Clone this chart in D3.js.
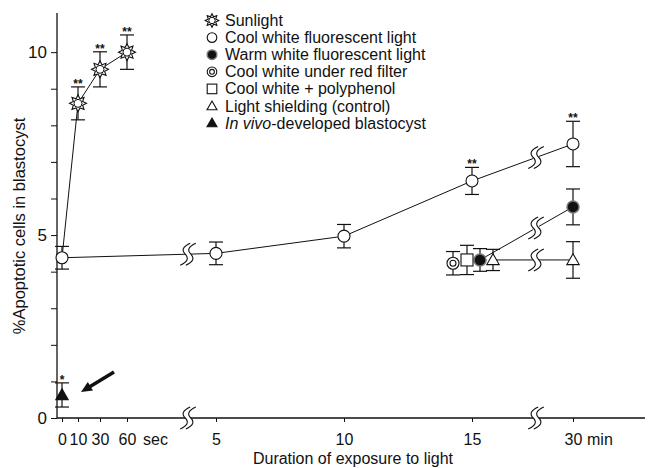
<!DOCTYPE html>
<html>
<head>
<meta charset="utf-8">
<script src="https://cdn.jsdelivr.net/npm/d3@7"></script>
<style>
body { margin: 0; background: #fff; }
svg { font-family: "Liberation Sans", Arial, sans-serif; }
</style>
</head>
<body>
<div id="chart"></div>
<script>
// x ticks, seconds part and minutes part of the broken axis
const secTicks = [0, 10, 30, 60]
const minTicks = [5, 10, 15, 30]
const yLabels = [0, 5, 10]

// sunlight starts from the same 0 sec point as cool white
const sunTimes = ["0s", "10s", "30s", "60s"]
const sunMean = [4.38, 8.6, 9.53, 10.0]
const sunErr = [0.31, 0.45, 0.48, 0.47]
const sunSig = ["", "**", "**", "**"]

const coolTimes = ["0s", "5m", "10m", "15m", "30m"]
const coolMean = [4.38, 4.5, 4.97, 6.48, 7.49]
const coolErr = [0.31, 0.31, 0.32, 0.37, 0.62]
const coolSig = ["", "", "", "**", "**"]

const warmTimes = ["15m", "30m"]
const warmMean = [4.32, 5.77]
const warmErr = [0.31, 0.49]

const redTimes = ["15m"]
const redMean = [4.23]
const redErr = [0.32]

const polyTimes = ["15m"]
const polyMean = [4.32]
const polyErr = [0.40]

const shieldTimes = ["15m", "30m"]
const shieldMean = [4.32, 4.32]
const shieldErr = [0.29, 0.50]

const vivoTimes = ["0s"]
const vivoMean = [0.63]
const vivoErr = [0.33]
const vivoSig = ["*"]

const legendNames = ["Sunlight", "Cool white fluorescent light", "Warm white fluorescent light",
	"Cool white under red filter", "Cool white + polyphenol", "Light shielding (control)", "In vivo-developed blastocyst"]

const W = 649, H = 468

const svg = d3.select("#chart").append("svg")
	.attr("width", W)
	.attr("height", H)

const y = d3.scaleLinear().domain([0, 11.07]).range([418, 13])
const xSec = d3.scaleLinear().domain(secTicks).range([62, 78, 100, 127])
const xMin = d3.scaleLinear().domain([5, 15, 30]).range([216, 472, 573])
const axisX0 = 57, axisX1 = 645
const breaksX = [188, 536]

function xPos(key) {
	const v = parseFloat(key)
	return key.endsWith("s") ? xSec(v) : xMin(v)
}

function build(times, mean, err, sig, dodge) {
	return times.map((t, i) => ({
		t: t,
		x: xPos(t) + (t == "15m" ? dodge : 0),
		v: mean[i],
		e: err[i],
		sig: sig ? sig[i] : ""
	}))
}

const series = [
	{name: "sun", symbol: "star", data: build(sunTimes, sunMean, sunErr, sunSig, 0), skipFirst: true},
	{name: "cool", symbol: "circle", data: build(coolTimes, coolMean, coolErr, coolSig, 0)},
	{name: "warm", symbol: "filled", data: build(warmTimes, warmMean, warmErr, null, 8)},
	{name: "red", symbol: "double", data: build(redTimes, redMean, redErr, null, -19)},
	{name: "poly", symbol: "square", data: build(polyTimes, polyMean, polyErr, null, -5)},
	{name: "shield", symbol: "triangle", data: build(shieldTimes, shieldMean, shieldErr, null, 21)},
	{name: "vivo", symbol: "ftriangle", data: build(vivoTimes, vivoMean, vivoErr, vivoSig, 0)}
]

function starPath(r1, r2, n) {
	const pts = d3.range(n * 2).map(i => {
		const a = i * Math.PI / n - Math.PI / 2
		const r = i % 2 ? r2 : r1
		return [Math.cos(a) * r, Math.sin(a) * r]
	})
	return "M" + pts.join("L") + "Z"
}

function drawSymbol(g, type, s) {
	if (type == "star") {
		g.append("path").attr("d", starPath(8.5 * s, 5 * s, 8))
			.attr("fill", "#fff").attr("stroke", "#111").attr("stroke-width", 1.1)
		g.append("circle").attr("r", 4 * s).attr("fill", "#fff").attr("stroke", "#111").attr("stroke-width", 1)
	} else if (type == "circle") {
		g.append("circle").attr("r", 6 * s).attr("fill", "#fff").attr("stroke", "#111").attr("stroke-width", 1.1)
	} else if (type == "filled") {
		g.append("circle").attr("r", 6 * s).attr("fill", "#111").attr("stroke", "#777").attr("stroke-width", 1.5)
	} else if (type == "double") {
		g.append("circle").attr("r", 6 * s).attr("fill", "#fff").attr("stroke", "#111").attr("stroke-width", 1.1)
		g.append("circle").attr("r", 3 * s).attr("fill", "#fff").attr("stroke", "#111").attr("stroke-width", 1.1)
	} else if (type == "square") {
		g.append("rect").attr("x", -6 * s).attr("y", -6 * s).attr("width", 12 * s).attr("height", 12 * s)
			.attr("fill", "#fff").attr("stroke", "#111").attr("stroke-width", 1.1)
	} else if (type == "triangle" || type == "ftriangle") {
		const r = 6.2 * s
		g.append("path").attr("d", `M0,${-r}L${r},${r * 0.75}L${-r},${r * 0.75}Z`)
			.attr("fill", type == "triangle" ? "#fff" : "#111").attr("stroke", "#111").attr("stroke-width", 1.1)
	}
}

function drawBreak(g, bx, by) {
	g.append("rect")
		.attr("x", bx - 3).attr("y", by - 2.5)
		.attr("width", 6).attr("height", 5)
		.attr("fill", "#fff")
	;[-2.8, 2.8].forEach(dx => {
		const cx = bx + dx
		g.append("path")
			.attr("d", `M${cx + 5},${by - 11} Q${cx - 6},${by - 6} ${cx},${by} Q${cx + 6},${by + 6} ${cx - 5},${by + 11}`)
			.attr("fill", "none")
			.attr("stroke", "#111")
			.attr("stroke-width", 1.1)
	})
}

// axes
const yAxis = svg.append("g")
	.attr("transform", `translate(${axisX0},0)`)
	.call(d3.axisLeft(y).tickValues(d3.range(0, 11)).tickSize(6).tickPadding(4)
		.tickFormat(d => yLabels.includes(d) ? d : ""))
yAxis.select(".domain").remove()
yAxis.selectAll("line").attr("stroke", "#111")
yAxis.selectAll("text").attr("font-size", 17).attr("fill", "#111").attr("font-family", null)

svg.append("line")
	.attr("x1", axisX0).attr("x2", axisX0)
	.attr("y1", y.range()[1]).attr("y2", y(0))
	.attr("stroke", "#111").attr("stroke-width", 1.3)

const xg = svg.append("g").attr("transform", `translate(0,${y(0)})`)
xg.append("g").call(d3.axisBottom(xSec).tickValues(secTicks).tickSize(4).tickPadding(12))
xg.append("g").call(d3.axisBottom(xMin).tickValues(minTicks).tickSize(4).tickPadding(12))
xg.selectAll(".domain").remove()
xg.selectAll("line").attr("stroke", "#111")
xg.selectAll("text").attr("font-size", 16).attr("fill", "#111").attr("font-family", null)

xg.append("line")
	.attr("x1", axisX0).attr("x2", axisX1)
	.attr("stroke", "#111").attr("stroke-width", 1.3)
breaksX.forEach(bx => drawBreak(xg, bx, 0))

xg.append("text")
	.attr("x", xSec(60) + 16).attr("y", 27)
	.attr("font-size", 16).attr("fill", "#111")
	.text("sec")
xg.append("text")
	.attr("x", xMin(30) + 14).attr("y", 27)
	.attr("font-size", 16).attr("fill", "#111")
	.text("min")

svg.append("text")
	.attr("x", 353).attr("y", 464)
	.attr("text-anchor", "middle")
	.attr("font-size", 16).attr("fill", "#111")
	.text("Duration of exposure to light")

svg.append("text")
	.attr("transform", "translate(25,226) rotate(-90)")
	.attr("text-anchor", "middle")
	.attr("font-size", 16.5).attr("fill", "#111")
	.text("%Apoptotic cells in blastocyst")

// lines with break marks
const plot = svg.append("g")
const line = d3.line().x(d => d.x).y(d => y(d.v))

series.forEach(s => {
	if (s.data.length < 2) return
	plot.append("path")
		.datum(s.data)
		.attr("d", line)
		.attr("fill", "none")
		.attr("stroke", "#111")
		.attr("stroke-width", 1)
	for (let i = 1; i < s.data.length; i++) {
		const a = s.data[i - 1], b = s.data[i]
		breaksX.forEach(bx => {
			if (a.x < bx && b.x > bx) {
				const by = y(a.v) + (y(b.v) - y(a.v)) * (bx - a.x) / (b.x - a.x)
				drawBreak(plot, bx, by)
			}
		})
	}
})

// error bars, markers, significance
series.forEach(s => {
	const pts = s.skipFirst ? s.data.slice(1) : s.data
	const g = plot.selectAll(null)
		.data(pts)
		.join("g")
		.attr("transform", d => `translate(${d.x},0)`)

	g.append("line")
		.attr("y1", d => y(d.v + d.e)).attr("y2", d => y(d.v - d.e))
		.attr("stroke", "#111").attr("stroke-width", 1.2)
	g.append("line")
		.attr("x1", -7).attr("x2", 7)
		.attr("y1", d => y(d.v + d.e)).attr("y2", d => y(d.v + d.e))
		.attr("stroke", "#111").attr("stroke-width", 1.2)
	g.append("line")
		.attr("x1", -7).attr("x2", 7)
		.attr("y1", d => y(d.v - d.e)).attr("y2", d => y(d.v - d.e))
		.attr("stroke", "#111").attr("stroke-width", 1.2)
	g.append("text")
		.attr("y", d => y(d.v + d.e) + 1)
		.attr("text-anchor", "middle")
		.attr("font-size", 12).attr("font-weight", "bold").attr("fill", "#111")
		.text(d => d.sig)

	g.append("g")
		.attr("transform", d => `translate(0,${y(d.v)})`)
		.each(function () { drawSymbol(d3.select(this), s.symbol, 1) })
})

// arrow pointing at the in vivo point
const vivo = series[6].data[0]
const tip = [vivo.x + 19, y(vivo.v) - 3], tail = [vivo.x + 52, y(vivo.v) - 23]
const ang = Math.atan2(tip[1] - tail[1], tip[0] - tail[0])
const head = 11
svg.append("line")
	.attr("x1", tail[0]).attr("y1", tail[1])
	.attr("x2", tip[0] - Math.cos(ang) * head * 0.8).attr("y2", tip[1] - Math.sin(ang) * head * 0.8)
	.attr("stroke", "#111").attr("stroke-width", 3.5)
svg.append("path")
	.attr("d", () => {
		const bx = tip[0] - Math.cos(ang) * head, by = tip[1] - Math.sin(ang) * head
		const px = -Math.sin(ang) * 5, py = Math.cos(ang) * 5
		return `M${tip[0]},${tip[1]}L${bx + px},${by + py}L${bx - px},${by - py}Z`
	})
	.attr("fill", "#111")

// legend
const legend = svg.append("g")
const symbols = ["star", "circle", "filled", "double", "square", "triangle", "ftriangle"]
const row = legend.selectAll("g")
	.data(legendNames)
	.join("g")
	.attr("transform", (d, i) => `translate(212,${26 + i * 17.1})`)

row.append("g")
	.attr("transform", "translate(0,-5.5)")
	.each(function (d, i) { drawSymbol(d3.select(this), symbols[i], 0.8) })

row.append("text")
	.attr("x", 13)
	.attr("font-size", 16).attr("fill", "#111")
	.each(function (d) {
		const t = d3.select(this)
		if (d.startsWith("In vivo")) {
			t.append("tspan").attr("font-style", "italic").text("In vivo")
			t.append("tspan").text(d.slice(7))
		} else {
			t.text(d)
		}
	})
</script>
</body>
</html>
